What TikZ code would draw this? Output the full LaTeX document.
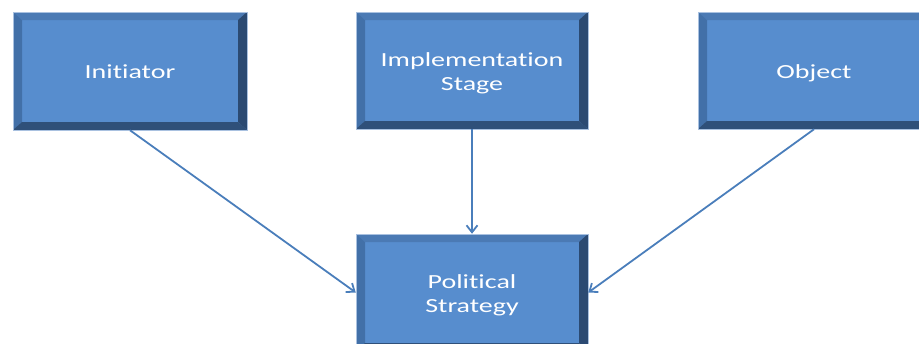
\documentclass[tikz,border=0pt]{standalone}
\usepackage{fontspec}
\setmainfont{Carlito}[Ligatures=NoCommon]
\usetikzlibrary{calc,arrows.meta}
\definecolor{boxblue}{HTML}{578DCE}
\definecolor{bevtop}{HTML}{4B7AB4}
\definecolor{bevleft}{HTML}{4270A8}
\definecolor{bevright}{HTML}{2B4A72}
\definecolor{bevbottom}{HTML}{2F5079}
\definecolor{boxedge}{HTML}{A9C1E0}
\definecolor{linkblue}{HTML}{4A7EBB}
\newcommand{\boxtext}[1]{\raisebox{-3pt}[\height][\depth]{\scalebox{1.4}[1]{\begin{tabular}{@{}c@{}}#1\end{tabular}}}}
\tikzset{
  bevelbox/.style={rectangle, minimum width=232pt, minimum height=117pt, inner sep=0pt,
    fill=boxblue, draw=boxedge, line width=0.5pt, text=white,
    font=\fontsize{20pt}{24pt}\selectfont,
    path picture={
      \coordinate (o1) at (path picture bounding box.north west);
      \coordinate (o2) at (path picture bounding box.north east);
      \coordinate (o3) at (path picture bounding box.south east);
      \coordinate (o4) at (path picture bounding box.south west);
      \coordinate (i1) at ($(o1)+(9pt,-8pt)$);
      \coordinate (i2) at ($(o2)+(-9pt,-8pt)$);
      \coordinate (i3) at ($(o3)+(-9pt,8pt)$);
      \coordinate (i4) at ($(o4)+(9pt,8pt)$);
      \fill[bevtop] (o1) -- (o2) -- (i2) -- (i1) -- cycle;
      \fill[bevleft] (o1) -- (i1) -- (i4) -- (o4) -- cycle;
      \fill[bevright] (o2) -- (o3) -- (i3) -- (i2) -- cycle;
      \fill[bevbottom] (o4) -- (i4) -- (i3) -- (o3) -- cycle;
    }},
  link/.style={draw=linkblue, line width=1.8pt, -{Straight Barb[length=7pt,width=11pt]}}
}
\begin{document}
\begin{tikzpicture}[x=1pt, y=-1pt]
  \useasboundingbox (0,0) rectangle (919,343);
  % top row
  \node[bevelbox, minimum width=234pt, minimum height=118pt] (initiator) at (130,71) {\boxtext{Initiator}};
  \node[bevelbox] (stage) at (472,70.5) {\boxtext{Implementation\\Stage}};
  \node[bevelbox] (object) at (814,70.5) {\boxtext{Object}};
  % bottom
  \node[bevelbox] (strategy) at (472,292.5) {\boxtext{Political\\Strategy}};
  % links
  \path[link] (initiator.south) -- (strategy.west);
  \path[link] (stage.south) -- (strategy.north);
  \path[link] (object.south) -- (strategy.east);
\end{tikzpicture}
\end{document}
